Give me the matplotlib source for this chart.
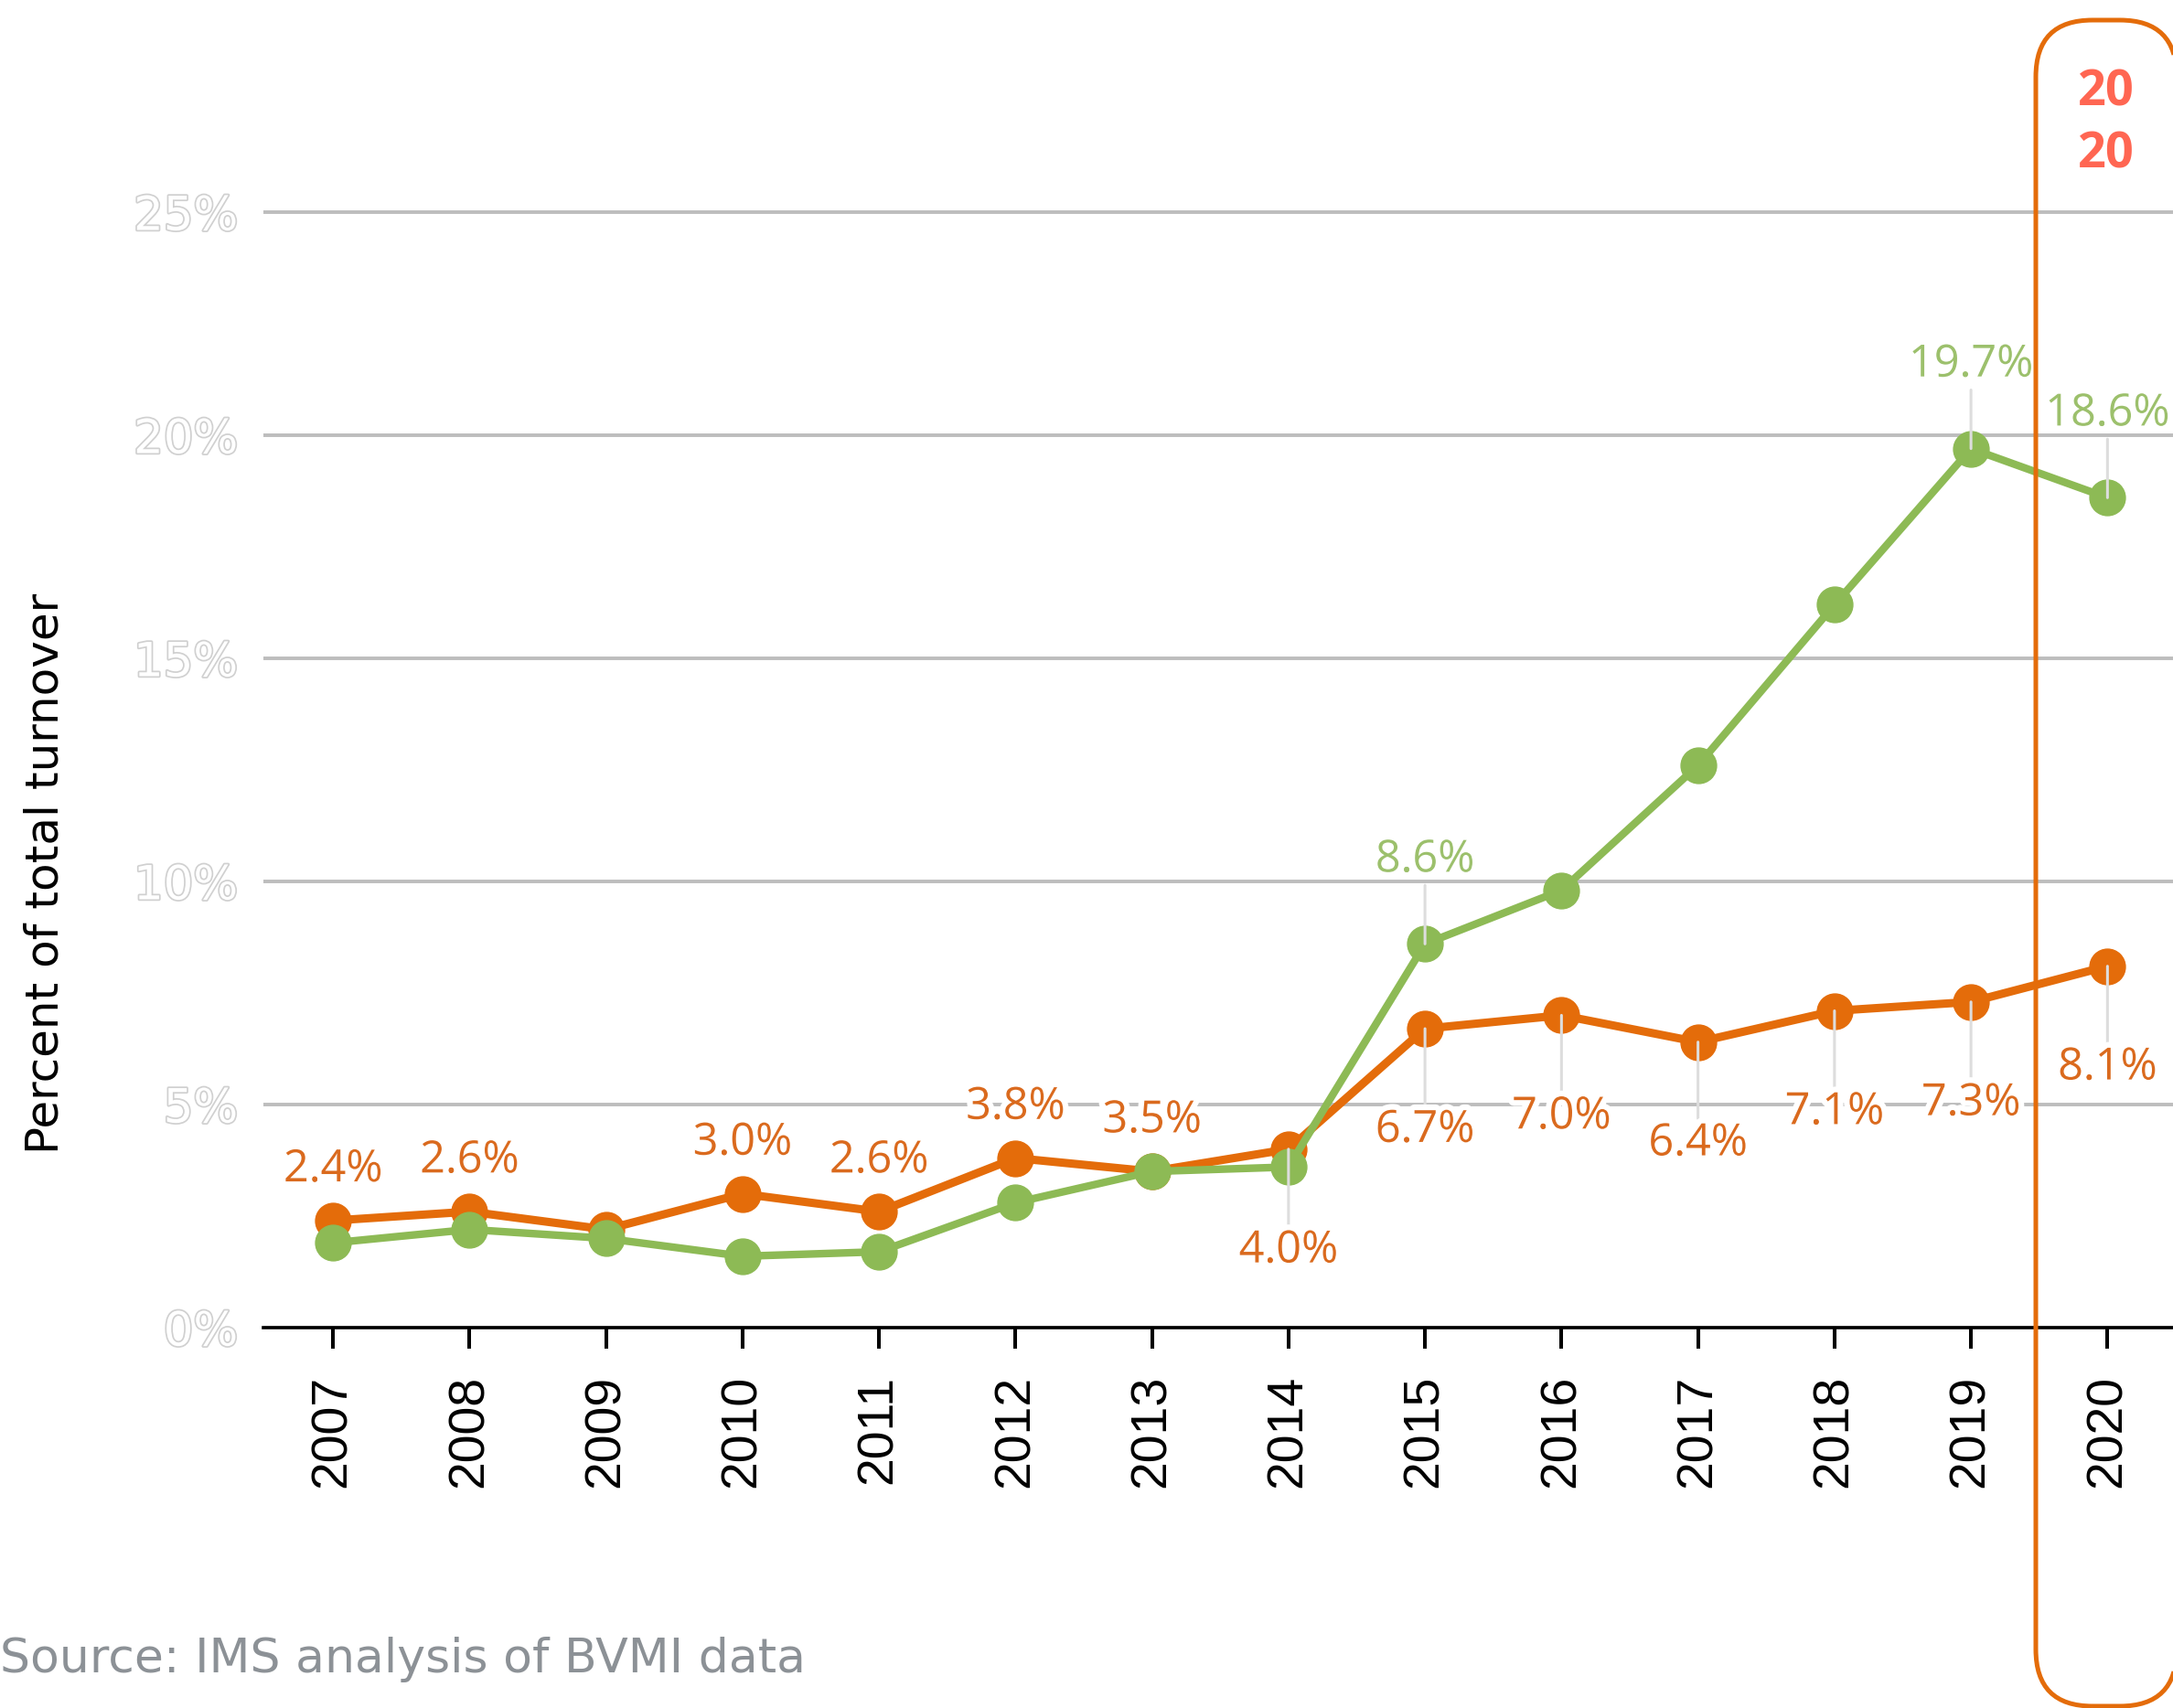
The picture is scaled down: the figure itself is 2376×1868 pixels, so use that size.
import matplotlib
matplotlib.use('Agg')
import matplotlib.pyplot as plt
import matplotlib.patheffects as pe
from matplotlib.patches import FancyBboxPatch, Polygon

# data
years = [2007, 2008, 2009, 2010, 2011, 2012, 2013, 2014, 2015, 2016, 2017, 2018, 2019, 2020]
orange_vals = [2.4, 2.6, 2.2, 3.0, 2.6, 3.8, 3.5, 4.0, 6.7, 7.0, 6.4, 7.1, 7.3, 8.1]
green_vals = [1.9, 2.2, 2.0, 1.6, 1.7, 2.8, 3.5, 3.6, 8.6, 9.8, 12.6, 16.2, 19.7, 18.6]
yticks = [0, 5, 10, 15, 20, 25]
ytick_labels = ['0%', '5%', '10%', '15%', '20%', '25%']

# which points get a value label
orange_above = [2007, 2008, 2010, 2011, 2012, 2013]
orange_below = [2014, 2015, 2016, 2017, 2018, 2019, 2020]
green_above = [2015, 2019, 2020]

ORANGE = '#E46C0A'
GREEN = '#8DBA55'
ORANGE_TXT = '#DA6A1E'
GREEN_TXT = '#9CC06C'

W, H = 2376, 1868
fig = plt.figure(figsize=(W / 100, H / 100), dpi=100)
ax = fig.add_axes([288 / W, 416 / H, 1 - 288 / W, 1244.4 / H])

ax.plot(years, orange_vals, color=ORANGE, lw=6.5, marker='o', ms=28, zorder=3)
ax.plot(years, green_vals, color=GREEN, lw=6.0, marker='o', ms=28, zorder=4)

ax.set_xlim(2006.49, 2020.48)
ax.set_ylim(0, 25.5)

for s in ['top', 'right', 'left']:
    ax.spines[s].set_visible(False)
ax.spines['bottom'].set_linewidth(2.6)
ax.spines['bottom'].set_color('black')
ax.spines['bottom'].set_zorder(5)

ax.set_yticks(yticks)
ax.set_yticklabels(ytick_labels)
ax.yaxis.grid(True, color='#bdbdbd', lw=2.8)
ax.set_axisbelow(True)
ax.tick_params(axis='y', length=0, pad=20)
for t in ax.get_yticklabels():
    t.set_fontfamily('DejaVu Sans')
    t.set_fontsize(37)
    t.set_color('white')
    t.set_path_effects([pe.withStroke(linewidth=2.5, foreground='#d0d0d0')])

ax.set_xticks(years)
ax.set_xticklabels([str(y) for y in years], rotation=90)
ax.tick_params(axis='x', direction='out', length=16.5, width=2.9, color='black', pad=21)
for t in ax.get_xticklabels():
    t.set_fontfamily('Liberation Sans')
    t.set_fontsize(40)
    t.set_color('black')

halo = [pe.withStroke(linewidth=9, foreground='white')]
leader = dict(arrowstyle='-', color='#dddddd', lw=2.2, shrinkA=0, shrinkB=0)


def label(x, y, txt, dy, color, with_line):
    kw = {}
    if with_line:
        kw['arrowprops'] = leader
    ax.annotate(txt, (x, y), xytext=(0, dy), textcoords='offset points',
                ha='center', va='center', fontsize=35, family='Open Sans',
                color=color, path_effects=halo, zorder=6,
                annotation_clip=False, **kw)


for yr, v in zip(years, orange_vals):
    if yr in orange_above:
        label(yr, v, f'{v:.1f}%', 40, ORANGE_TXT, False)
    elif yr in orange_below:
        label(yr, v, f'{v:.1f}%', -80, ORANGE_TXT, True)
for yr, v in zip(years, green_vals):
    if yr in green_above:
        label(yr, v, f'{v:.1f}%', 66, GREEN_TXT, True)

# axis title and source
fig.text(50 / W, (H - 955) / H, 'Percent of total turnover', rotation=90,
         ha='center', va='center', fontsize=36, family='DejaVu Sans', color='black')
fig.text(0.0, (H - 1815) / H, 'Source: IMS analysis of BVMI data', ha='left', va='center',
         fontsize=37.5, family='DejaVu Sans', color='#8c9196')

# highlight box around 2020, drawn on a full-figure overlay in pixel units
ov = fig.add_axes([0, 0, 1, 1], zorder=10)
ov.set_xlim(0, W)
ov.set_ylim(0, H)
ov.axis('off')
ov.patch.set_alpha(0)
rb = FancyBboxPatch((2226, 2), 154, 1844, boxstyle='round,pad=0,rounding_size=62')
# flatten the curved corners so clipping at the figure edge stays clean
outline = rb.get_path().to_polygons(closed_only=False)[0]
ov.add_patch(Polygon(outline, closed=True, fill=False, ec=ORANGE, lw=3.6,
                     joinstyle='round'))
ov.text(2303, H - 102, '20', ha='center', va='center',
        fontsize=39, family='Open Sans', fontweight='bold', color='#FF6652')
ov.text(2303, H - 170, '20', ha='center', va='center',
        fontsize=39, family='Open Sans', fontweight='bold', color='#FF6652')

fig.savefig('out.png', dpi=100)
